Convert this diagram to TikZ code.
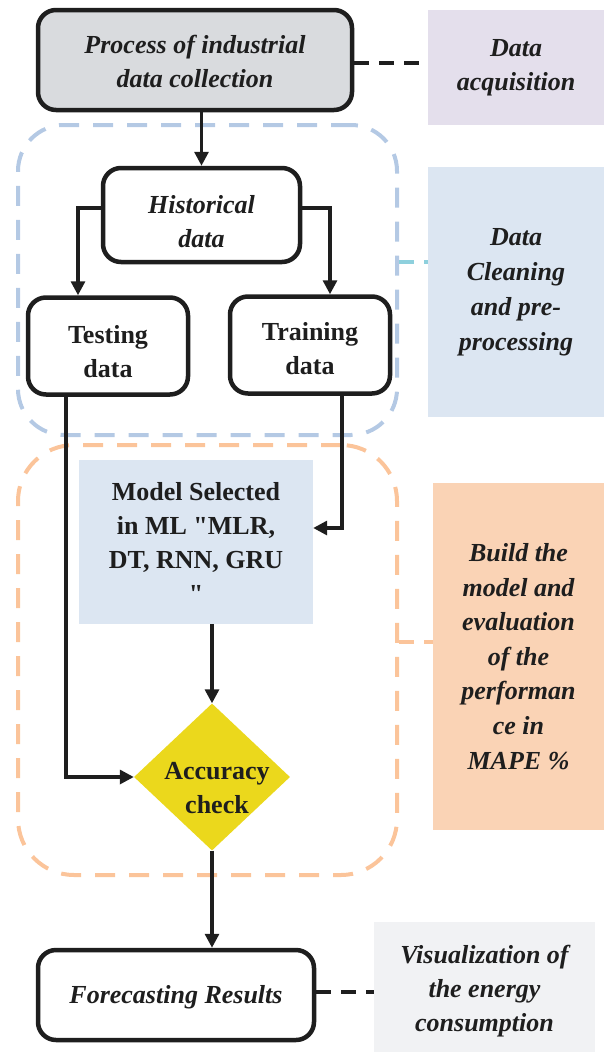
\documentclass[tikz,border=0pt]{standalone}
\usepackage{fontspec}
\setmainfont{Liberation Serif}[Ligatures=TeXOff]
\usetikzlibrary{arrows.meta,shapes.geometric}
\definecolor{txt}{HTML}{1E1E1E}
\definecolor{procgray}{HTML}{D9DBDE}
\definecolor{acqfill}{HTML}{E4DFEC}
\definecolor{bluefill}{HTML}{DCE6F2}
\definecolor{buildfill}{HTML}{FAD3B5}
\definecolor{visfill}{HTML}{F1F2F4}
\definecolor{accyellow}{HTML}{EBD81C}
\definecolor{bluedash}{HTML}{B4C9E4}
\definecolor{orangedash}{HTML}{FBC49A}
\definecolor{cyandash}{HTML}{8ED0DD}
\begin{document}
\begin{tikzpicture}[x=1pt,y=-1pt,
  bi/.style={font=\fontsize{26}{34}\selectfont\bfseries\itshape},
  bu/.style={font=\fontsize{26}{34}\selectfont\bfseries},
  box/.style={draw=txt, line width=4.5pt, rounded corners=18pt, inner sep=0pt},
  lbl/.style={align=center, inner sep=0pt, text=txt},
  tag/.style={align=center, inner sep=0pt, text=txt, bi},
  region/.style={line width=4pt, dash pattern=on 20pt off 14pt, minimum width=379pt, inner sep=0pt},
  arr/.style={draw=txt, line width=3.2pt, -{Triangle[length=14pt,width=14pt]}},
  link/.style={line width=3.2pt, dash pattern=on 15pt off 10pt}
]
\useasboundingbox (0,0) rectangle (604,1053);

% regions
\node[region, draw=bluedash, rounded corners=46pt, minimum height=310pt] (cleanreg) at (207.5,280) {};
\node[region, draw=orangedash, rounded corners=56pt, minimum height=430pt] (buildreg) at (207.5,660) {};

% side tags
\node[tag, fill=acqfill, minimum width=176pt, minimum height=115pt] (acq) at (516,67.5) {Data\\acquisition};
\node[tag, fill=bluefill, minimum width=176pt, minimum height=250pt, font=\fontsize{26}{35}\selectfont\bfseries\itshape] (clean) at (516,292) {Data\\Cleaning\\and pre-\\processing};
\node[tag, fill=buildfill, minimum width=171pt, minimum height=347pt, font=\fontsize{26}{34.6}\selectfont\bfseries\itshape] (build) at (518.5,656.5) {Build the\\model and\\evaluation\\of the\\performan\\ce in\\MAPE \%};
\node[tag, fill=visfill, minimum width=221pt, minimum height=130pt] (vis) at (484.5,987) {};
\node[tag] (vistext) at (484.5,991) {Visualization of\\the energy\\consumption};

% main flow
\node[box, fill=procgray, minimum width=314pt, minimum height=100pt] (proc) at (195,60) {};
\node[lbl, bi] (proctext) at (195,61) {Process of industrial\\data collection};
\node[box, fill=white, minimum width=197pt, minimum height=94pt] (hist) at (201.5,215) {};
\node[lbl, bi] (histtext) at (201.5,222) {Historical\\data};
\node[box, fill=white, minimum width=160pt, minimum height=97pt] (test) at (108,346) {};
\node[lbl, bu] (testtext) at (108,352) {Testing\\data};
\node[box, fill=white, minimum width=160pt, minimum height=97pt] (train) at (310,345) {};
\node[lbl, bu] (traintext) at (310,349) {Training\\data};
\node[lbl, bu, fill=bluefill, minimum width=234pt, minimum height=164pt] (model) at (196,542) {Model Selected\\in ML "MLR,\\DT, RNN, GRU\\"};
\node[diamond, fill=accyellow, inner sep=0pt, minimum width=156pt, minimum height=147pt] (acc) at (212,777) {};
\node[lbl, bu] (acctext) at (217,788) {Accuracy\\check};
\node[box, fill=white, minimum width=276pt, minimum height=90pt] (fore) at (176,995) {};
\node[lbl, bi] (foretext) at (176,997) {Forecasting Results};

% connectors
\draw[arr] (proc.south -| hist.north) -- (hist.north);
\draw[arr] ([yshift=7pt]hist.west) -| ([xshift=-30pt]test.north);
\draw[arr] ([yshift=7pt]hist.east) -| ([xshift=20pt]train.north);
\draw[arr] ([xshift=32pt]train.south) |- ([yshift=14pt]model.east);
\draw[arr] ([xshift=-42pt]test.south) |- (acc.west);
\draw[arr] (acc.north |- model.south) -- (acc.north);
\draw[arr] (acc.south) -- (acc.south |- fore.north);

% dashed links
\draw[link, draw=txt] ([yshift=-3pt]proc.east) -- ([yshift=-3pt]proc.east -| acq.west);
\draw[link, draw=cyandash] ([yshift=18pt]cleanreg.east) -- ([yshift=18pt]cleanreg.east -| clean.west);
\draw[link, draw=orangedash] ([yshift=18pt]buildreg.east) -- ([yshift=18pt]buildreg.east -| build.west);
\draw[link, draw=txt] ([yshift=3pt]fore.east) -- ([yshift=3pt]fore.east -| vis.west);
\end{tikzpicture}
\end{document}
